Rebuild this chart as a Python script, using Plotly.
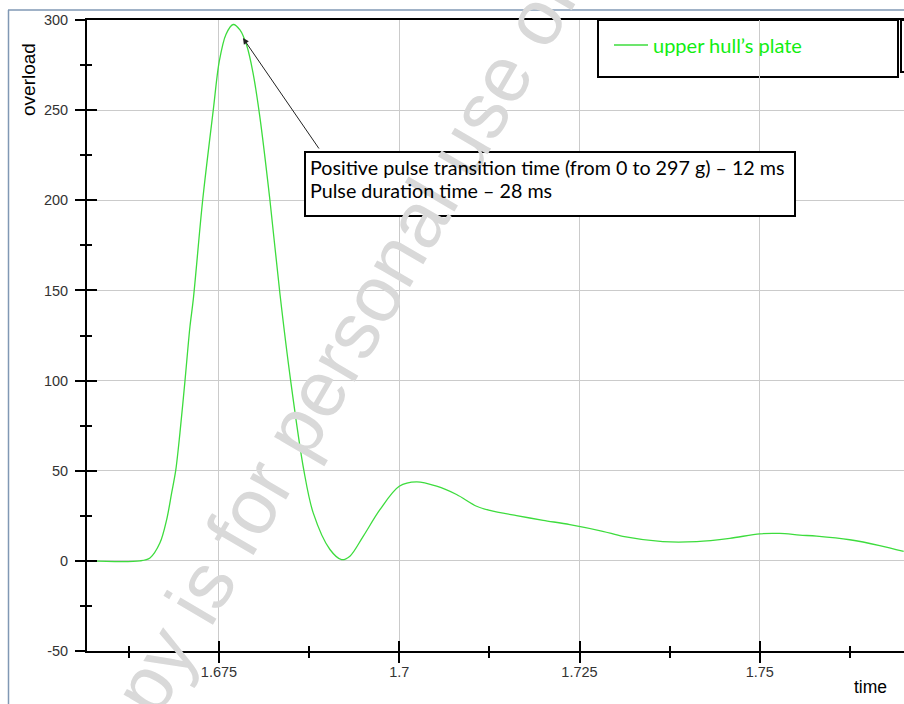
import plotly.graph_objects as go

# ---------------- data ----------------
time_s = [1.65670, 1.66405, 1.66543, 1.66682, 1.66775, 1.66844, 1.66900, 1.66959,
          1.67029, 1.67098, 1.67144, 1.67274, 1.67421, 1.67504, 1.67597, 1.67698,
          1.67791, 1.67884, 1.67971, 1.68068, 1.68207, 1.68346, 1.68494, 1.68678,
          1.68807, 1.69039, 1.69201, 1.69316, 1.69500, 1.69732, 1.70000, 1.70241,
          1.70518, 1.70795, 1.71073, 1.71257, 1.71627, 1.71996, 1.72366, 1.72823,
          1.73101, 1.73655, 1.74127, 1.74584, 1.75000, 1.75277, 1.75554, 1.75790,
          1.76248, 1.76663, 1.76996]
overload_g = [0.0, 0.0, 1.6, 10.0, 22.9, 37.7, 50.0, 71.0,
              100.0, 130.0, 145.0, 200.0, 250.0, 277.0, 292.0, 297.5,
              294.5, 286.0, 271.0, 246.0, 200.0, 148.0, 100.0, 50.0,
              26.6, 6.3, 0.7, 2.6, 13.6, 28.4, 41.4, 43.8,
              41.4, 36.8, 30.3, 28.0, 25.1, 22.5, 20.1, 16.4,
              13.6, 10.7, 10.7, 12.5, 15.0, 15.2, 14.3, 13.7,
              11.7, 8.5, 5.2]
series_name = "upper hull\u2019s plate"

x_ticks = [1.675, 1.7, 1.725, 1.75]
x_tick_labels = ["1.675", "1.7", "1.725", "1.75"]
x_minor_ticks = [1.6625, 1.6875, 1.7125, 1.7375, 1.7625]
y_ticks = [-50, 0, 50, 100, 150, 200, 250, 300]
y_tick_labels = ["-50", "0", "50", "100", "150", "200", "250", "300"]
y_minor_ticks = [-25, 25, 75, 125, 175, 225, 275]

x_range = [1.6567, 1.77]
y_range = [-50, 300]

note_lines = ["Positive pulse transition time (from 0 to 297 g) \u2013 12 ms",
              "Pulse duration time \u2013 28 ms"]
arrow_target = (1.67833, 290.0)
watermark = "This copy is for personal use only"

# ---------------- layout helpers ----------------
# full-window figure; the page margin is removed after plotting
W, H = 904, 704
L, R, T, B = 87, 0, 20, 53
PW, PH = W - L - R, H - T - B


def px(xp):  # window pixel x -> paper
    return (xp - L) / PW


def py(yp):  # window pixel y -> paper
    return (T + PH - yp) / PH


GREEN = "#3ddc3d"
SANS = "Liberation Sans, Arial, sans-serif"
CAL = "Lato, Carlito, sans-serif"
TICKFONT = dict(family=SANS, size=14.5, color="#333333")

fig = go.Figure()
fig.add_trace(go.Scatter(
    x=time_s, y=overload_g, mode="lines", name=series_name,
    line=dict(color=GREEN, width=1.3, shape="spline", smoothing=0.9),
    hoverinfo="skip",
))
# invisible copy so the overlay axes (inner halves of the ticks) are drawn
fig.add_trace(go.Scatter(
    x=time_s, y=overload_g, mode="lines", xaxis="x2", yaxis="y2",
    line=dict(color="rgba(0,0,0,0)", width=0), showlegend=False, hoverinfo="skip",
))

common_x = dict(range=x_range, tickmode="array", tickvals=x_ticks,
                tickcolor="black", tickwidth=2, ticklen=10, automargin=False)
common_y = dict(range=y_range, tickmode="array", tickvals=y_ticks,
                tickcolor="black", tickwidth=2, ticklen=10, automargin=False)

fig.update_layout(
    width=W, height=H,
    margin=dict(l=L, r=R, t=T, b=B, pad=0, autoexpand=False),
    paper_bgcolor="white", plot_bgcolor="white",
    xaxis=dict(**common_x, ticktext=x_tick_labels, ticks="outside",
               showline=True, linecolor="black", linewidth=2, mirror=True,
               showgrid=True, gridcolor="#cbcbcb", gridwidth=1, zeroline=False,
               tickfont=TICKFONT, ticklabelstandoff=-3,
               minor=dict(tickmode="array", tickvals=x_minor_ticks, ticks="outside",
                          ticklen=5, tickwidth=1.5, tickcolor="black", showgrid=False)),
    yaxis=dict(**common_y, ticktext=y_tick_labels, ticks="outside",
               showline=True, linecolor="black", linewidth=2,
               showgrid=True, gridcolor="#cbcbcb", gridwidth=1, zeroline=False,
               tickfont=TICKFONT, ticklabelstandoff=4,
               minor=dict(tickmode="array", tickvals=y_minor_ticks, ticks="outside",
                          ticklen=5, tickwidth=1.5, tickcolor="black", showgrid=False)),
    xaxis2=dict(**common_x, overlaying="x", anchor="y2", side="bottom", ticks="inside",
                showticklabels=False, showgrid=False, showline=False, zeroline=False,
                minor=dict(tickmode="array", tickvals=x_minor_ticks, ticks="inside",
                           ticklen=5, tickwidth=1.5, tickcolor="black", showgrid=False)),
    yaxis2=dict(**common_y, overlaying="y", anchor="x2", side="left", ticks="inside",
                showticklabels=False, showgrid=False, showline=False, zeroline=False,
                minor=dict(tickmode="array", tickvals=y_minor_ticks, ticks="inside",
                           ticklen=5, tickwidth=1.5, tickcolor="black", showgrid=False)),
    showlegend=True,
    legend=dict(x=px(609), y=py(45), xanchor="left", yanchor="middle",
                bgcolor="rgba(0,0,0,0)", borderwidth=0, itemwidth=34,
                font=dict(family=CAL, size=20, color="#11ee11")),
)

# outer frame (light steel-blue) and legend boxes
fig.add_shape(type="line", xref="paper", yref="paper", x0=px(8), x1=px(910),
              y0=py(10), y1=py(10), line=dict(color="#8098b4", width=1.5), layer="above")
fig.add_shape(type="line", xref="paper", yref="paper", x0=px(8.5), x1=px(8.5),
              y0=py(10), y1=py(704), line=dict(color="#8098b4", width=1.5), layer="above")
fig.add_shape(type="rect", xref="paper", yref="paper", x0=px(598), x1=px(898),
              y0=py(77), y1=py(20), fillcolor="white",
              line=dict(color="black", width=2), layer="below")
fig.add_shape(type="rect", xref="paper", yref="paper", x0=px(901), x1=px(912),
              y0=py(72), y1=py(20), fillcolor="white",
              line=dict(color="black", width=2), layer="above")

# watermark
fig.add_annotation(xref="paper", yref="paper", x=px(300), y=py(420),
                   text=watermark, showarrow=False, textangle=-59.7,
                   xanchor="center", yanchor="middle",
                   font=dict(family=SANS, size=79, color="#d9d9d9"))

# axis titles
fig.add_annotation(xref="paper", yref="paper", x=px(29), y=py(80), text="overload",
                   textangle=-90, showarrow=False, xanchor="center", yanchor="middle",
                   font=dict(family=SANS, size=19, color="black"))
fig.add_annotation(xref="paper", yref="paper", x=px(870), y=py(687), text="time",
                   showarrow=False, xanchor="center", yanchor="middle",
                   font=dict(family=SANS, size=17.5, color="black"))

# note box
fig.add_shape(type="rect", xref="paper", yref="paper", x0=px(305), x1=px(795),
              y0=py(216), y1=py(152), fillcolor="white",
              line=dict(color="black", width=2), layer="above")
for i, line_text in enumerate(note_lines):
    fig.add_annotation(xref="paper", yref="paper", x=px(307.5), y=py(167 + 23.4 * i),
                       xanchor="left", yanchor="middle", text=line_text,
                       showarrow=False, align="left",
                       font=dict(family=CAL, size=19.7, color="black"))
# arrow to the peak
fig.add_annotation(x=arrow_target[0], y=arrow_target[1], xref="x", yref="y",
                   text="", showarrow=True, ax=77, ay=112,
                   arrowhead=2, arrowsize=1.2, arrowwidth=1, arrowcolor="#222222",
                   standoff=0)

fig.write_html("out.html",
               config={"displayModeBar": False},
               post_script="document.body.style.margin='0';"
                           "document.documentElement.style.overflow='hidden';")
